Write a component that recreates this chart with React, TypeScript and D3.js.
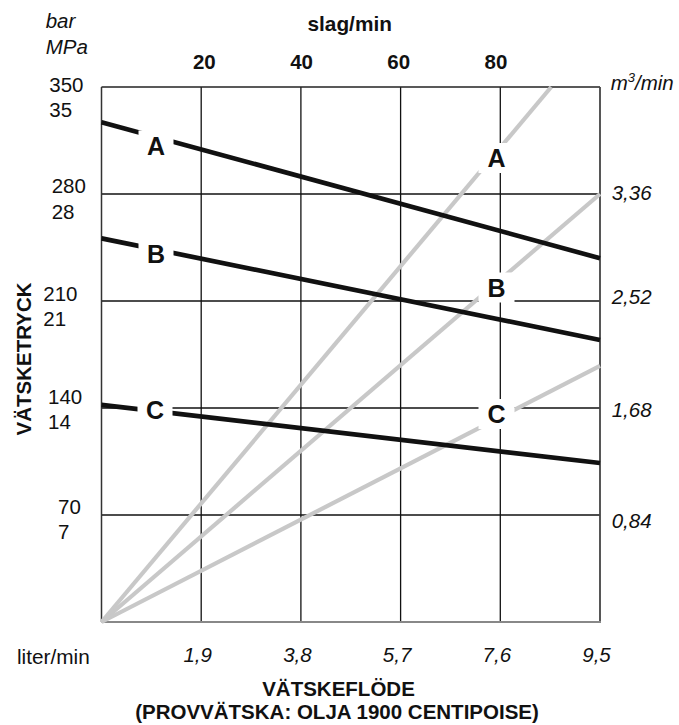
import React from "react";
import * as d3 from "d3";

// ---- data ----
const flowTicks = [1.9, 3.8, 5.7, 7.6, 9.5]; // liter/min
const strokeTicks = [20, 40, 60, 80]; // slag/min
const barTicks = [70, 140, 210, 280, 350];
const mpaTicks = [7, 14, 21, 28, 35];
const m3Ticks = [0.84, 1.68, 2.52, 3.36];

const pressureNames = ["A", "B", "C"];
const pressureStartBar = [327, 251, 142]; // at 0 liter/min
const pressureEndBar = [238, 184.5, 104]; // at 9.5 liter/min

const flowNames = ["A", "B", "C"];
const flowEndX = [8.57, 9.5, 9.5]; // liter/min at end
const flowEndM3 = [4.2, 3.36, 2.01]; // m3/min at end

// ---- layout / style ----
const W = 679;
const H = 725;
const L = 101.5, R = 600, T = 87, B = 622;
const FONT = "'Liberation Sans', Arial, Helvetica, sans-serif";
const barLabelX = [58, 48, 43.3, 51.7, 49.3];
const barLabelDy = [-1.3, -4.3, -0.3, -1, 4.7];
const m3LabelDy = [13, 8.7, 3, 6.4];
const pressureLabelPos = [
  [156, 145.5],
  [156, 254],
  [155, 410],
];
const flowLabelPos = [
  [496.5, 158],
  [496.5, 287.5],
  [496.5, 414],
];

export default function App() {
  const x = d3.scaleLinear().domain([0, 9.5]).range([L, R]);
  const yBar = d3.scaleLinear().domain([0, 350]).range([B, T]);
  const yM3 = d3.scaleLinear().domain([0, 4.2]).range([B, T]);
  const xStroke = d3.scaleLinear().domain([20, 80]).range([204.3, 496]);
  const line = d3.line<[number, number]>().x((d) => d[0]).y((d) => d[1]);
  const fmt = (v: number) => d3.format(".1f")(v).replace(".", ",");
  const fmt2 = (v: number) => d3.format(".2f")(v).replace(".", ",");

  const gray = "#c8c8c8";

  return (
    <svg width={W} height={H} style={{ display: "block", position: "absolute", left: 0, top: 0 }} fontFamily={FONT}>
      <rect width={W} height={H} fill="#fff" />
      {/* grid */}
      {flowTicks.slice(0, 4).map((v) => (
        <line key={"vx" + v} x1={x(v)} x2={x(v)} y1={T} y2={B} stroke="#111" strokeWidth={1.3} />
      ))}
      {barTicks.slice(0, 4).map((v) => (
        <line key={"hy" + v} x1={L} x2={R} y1={yBar(v)} y2={yBar(v)} stroke="#111" strokeWidth={1.3} />
      ))}
      {/* frame */}
      <line x1={L} x2={R} y1={T} y2={T} stroke="#222" strokeWidth={1.3} />
      <line x1={L} x2={L} y1={T} y2={B} stroke="#333" strokeWidth={1.5} />
      <line x1={R} x2={R} y1={T} y2={B} stroke="#444" strokeWidth={1.8} />
      <line x1={L} x2={R + 1} y1={B} y2={B} stroke="#888" strokeWidth={2} />

      {/* gray flow lines */}
      {flowNames.map((n, i) => (
        <path
          key={"f" + n}
          d={line([
            [x(0), yM3(0)],
            [x(flowEndX[i]), yM3(flowEndM3[i])],
          ]) || ""}
          stroke={gray}
          strokeWidth={4.2}
          fill="none"
        />
      ))}
      {/* black pressure lines */}
      {pressureNames.map((n, i) => (
        <path
          key={"p" + n}
          d={line([
            [x(0), yBar(pressureStartBar[i])],
            [x(9.5), yBar(pressureEndBar[i])],
          ]) || ""}
          stroke="#111"
          strokeWidth={4.7}
          fill="none"
        />
      ))}

      {/* labels with white boxes */}
      {pressureNames.map((n, i) => (
        <g key={"pl" + n}>
          <rect x={pressureLabelPos[i][0] - 17.5} y={pressureLabelPos[i][1] - 15} width={35} height={30} fill="#fff" />
          <text x={pressureLabelPos[i][0]} y={pressureLabelPos[i][1] + 9} textAnchor="middle" fontWeight="bold" fontSize={25} fill="#111">
            {n}
          </text>
        </g>
      ))}
      {flowNames.map((n, i) => (
        <g key={"fl" + n}>
          <rect x={flowLabelPos[i][0] - 18} y={flowLabelPos[i][1] - 15} width={36} height={30} fill="#fff" />
          <text x={flowLabelPos[i][0]} y={flowLabelPos[i][1] + 9} textAnchor="middle" fontWeight="bold" fontSize={25} fill="#111">
            {n}
          </text>
        </g>
      ))}

      {/* left axis labels */}
      <text x={45.7} y={28.3} fontSize={20.5} fontStyle="italic" fill="#111">bar</text>
      <text x={45.7} y={54.3} fontSize={20.5} fontStyle="italic" fill="#111">MPa</text>
      {barTicks.map((v, i) => (
        <g key={"bt" + v}>
          <text x={barLabelX[i]} y={yBar(v) + barLabelDy[i]} fontSize={20.5} fill="#111">{v}</text>
          <text x={barLabelX[i]} y={yBar(v) + barLabelDy[i] + 25.5} fontSize={20.5} fill="#111">{mpaTicks[i]}</text>
        </g>
      ))}
      <text
        transform={`translate(31, 359) rotate(-90)`}
        textAnchor="middle"
        fontWeight="bold"
        fontSize={20.5}
        fill="#111"
      >
        VÄTSKETRYCK
      </text>

      {/* right axis labels */}
      <text x={610.7} y={90} fontSize={20.5} fontStyle="italic" fill="#111">
        m<tspan fontSize={13} dy={-8}>3</tspan>
        <tspan dy={8}>/min</tspan>
      </text>
      {m3Ticks.map((v, i) => (
        <text key={"m3" + v} x={611.7} y={yM3(v) + m3LabelDy[i]} fontSize={20.5} fontStyle="italic" fill="#111">
          {fmt2(v)}
        </text>
      ))}

      {/* top axis */}
      <text x={349.7} y={31} textAnchor="middle" fontWeight="bold" fontSize={20.8} fill="#111">slag/min</text>
      {strokeTicks.map((v) => (
        <text key={"st" + v} x={xStroke(v)} y={69.3} textAnchor="middle" fontWeight="bold" fontSize={20.5} fill="#111">
          {v}
        </text>
      ))}

      {/* bottom axis */}
      <text x={17} y={664} fontSize={20.8} fill="#111">liter/min</text>
      {flowTicks.map((v) => (
        <text key={"ft" + v} x={x(v) - 3.5} y={661.5} textAnchor="middle" fontSize={20.5} fontStyle="italic" fill="#111">
          {fmt(v)}
        </text>
      ))}
      <text x={338.5} y={695.5} textAnchor="middle" fontWeight="bold" fontSize={20.5} fill="#111">VÄTSKEFLÖDE</text>
      <text x={337} y={718.5} textAnchor="middle" fontWeight="bold" fontSize={20.5} fill="#111">
        (PROVVÄTSKA: OLJA 1900 CENTIPOISE)
      </text>
    </svg>
  );
}
